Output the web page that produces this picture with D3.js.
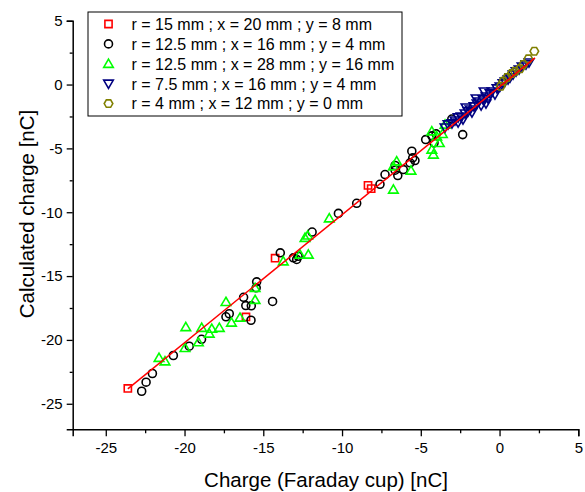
<!DOCTYPE html>
<html>
<head>
<meta charset="utf-8">
<script src="https://cdn.jsdelivr.net/npm/d3@7"></script>
<style>
  body { margin: 0; background: #fff; }
  text { font-family: "Liberation Sans", Arial, sans-serif; }
</style>
</head>
<body>
<svg id="chart" width="585" height="492"></svg>
<script>
// series values: [faraday cup charge, calculated charge] in nC
var red15 = [[-23.6,-23.8],[-14.25,-13.6],[-16.1,-18.2],[-8.35,-7.9],[-8.15,-8.15]];

var black125 = [[-22.72,-24.02],[-22.44,-23.31],[-22.04,-22.63],[-20.71,-21.22],[-19.7,-20.49],
  [-18.92,-19.95],[-17.37,-18.19],[-17.16,-17.95],[-16.25,-16.66],[-16.11,-17.31],[-15.76,-17.33],
  [-15.78,-18.46],[-15.45,-15.92],[-15.42,-15.45],[-14.41,-16.99],[-13.92,-13.18],[-13.09,-13.57],
  [-12.88,-13.7],[-12.79,-13.45],[-11.9,-11.55],[-10.23,-10.09],[-9.07,-9.3],[-7.59,-7.81],
  [-7.27,-7.05],[-6.63,-6.34],[-6.63,-6.71],[-6.46,-7.13],[-6.11,-6.66],[-5.68,-6.13],
  [-5.57,-5.22],[-5.51,-5.74],[-5.37,-5.95],[-4.69,-4.31],[-4.3,-4.02],[-4.16,-4.57],
  [-4.03,-3.86],[-3.03,-2.7],[-2.34,-3.92]];

var green125 = [[-21.62,-21.4],[-21.24,-21.67],[-19.97,-20.62],[-19.12,-20.18],[-19.92,-18.99],
  [-18.91,-19.05],[-18.27,-19.12],[-18.43,-19.5],[-17.79,-19.05],[-17.37,-17.02],[-17.02,-18.64],
  [-16.48,-18.25],[-15.52,-16.86],[-15.52,-15.92],[-13.73,-13.84],[-12.67,-13.31],[-12.14,-13.31],
  [-12.35,-12.0],[-12.18,-11.82],[-10.81,-10.47],[-6.74,-8.22],[-6.53,-6.01],[-6.74,-6.4],
  [-5.62,-6.73],[-4.3,-3.66],[-3.99,-4.05],[-3.63,-3.86],[-3.82,-4.57],[-4.3,-5.09],[-4.2,-5.48],
  [-3.46,-3.13]];

var blue75 = [[-3.46,-3.37],[-3.27,-3.13],[-3.02,-3.05],[-2.83,-2.82],[-2.63,-2.58],[-2.44,-2.51],
  [-2.32,-2.74],[-2.19,-2.27],[-2.0,-2.11],[-1.87,-1.96],[-1.75,-2.19],[-1.62,-1.72],[-1.43,-1.49],
  [-1.3,-1.33],[-1.17,-1.64],[-1.05,-1.17],[-0.86,-0.94],[-0.73,-1.1],[-0.6,-0.7],[-0.48,-0.55],
  [-0.29,-0.78],[-0.16,-0.31],[0.03,-0.16],[0.22,0.08],[0.35,0.23],[0.54,0.39],[0.67,0.55],
  [0.86,0.78],[1.05,1.02],[1.24,1.17],[1.43,1.41],[1.68,1.57],[1.87,1.72],[-0.86,-1.49],
  [-1.49,-1.1],[-2.13,-1.8],[-2.63,-2.98],[-0.98,-0.55]];

var olive4 = [[2.21,2.61],[1.83,2.01],[1.51,1.57],[1.3,1.23],[0.98,1.04],[0.77,0.86],
  [0.48,0.55],[0.24,0.26],[0.08,-0.13]];

// linear fit end points
var fitX = [-23.6, 2.25];
var fitY = [-23.83, 2.09];

var legendLabels = [
  "r = 15 mm ; x = 20 mm ; y = 8 mm",
  "r = 12.5 mm ; x = 16 mm ; y = 4 mm",
  "r = 12.5 mm ; x = 28 mm ; y = 16 mm",
  "r = 7.5 mm ; x = 16 mm ; y = 4 mm",
  "r = 4 mm ; x = 12 mm ; y = 0 mm"
];
var xTicks = [-25, -20, -15, -10, -5, 0, 5];
var yTicks = [-25, -20, -15, -10, -5, 0, 5];
var xMinor = [-22.5, -17.5, -12.5, -7.5, -2.5, 2.5];
var yMinor = [-22.5, -17.5, -12.5, -7.5, -2.5, 2.5];

var series = [
  {data: red15, color: "#ff0000", shape: "square"},
  {data: black125, color: "#000000", shape: "circle"},
  {data: green125, color: "#00ff00", shape: "up"},
  {data: blue75, color: "#000080", shape: "down"},
  {data: olive4, color: "#808000", shape: "hex"}
];

var svg = d3.select("#chart");

var x = d3.scaleLinear().domain([-27.1, 5]).range([72.7, 578.3]);
var y = d3.scaleLinear().domain([-27, 5]).range([429.3, 20.7]);

// marker path builders, centred at 0,0
function markerPath(shape) {
  if (shape == "square") return "M-3.6,-3.6H3.6V3.6H-3.6Z";
  if (shape == "circle") return d3.symbol(d3.symbolCircle, 50)();
  if (shape == "up") return "M0,-4.6L4.8,3.6H-4.8Z";
  if (shape == "down") return "M0,4.6L4.8,-3.6H-4.8Z";
  // hexagon
  var pts = d3.range(6).map(function(i) {
    var a = Math.PI / 3 * i;
    return [4.3 * Math.cos(a), 4.3 * Math.sin(a)];
  });
  return "M" + pts.join("L") + "Z";
}

var fmt = function(d) { return String(d); };

// axes (major with labels, minor without)
var xMajor = svg.append("g").attr("transform", "translate(0," + y(-27) + ")")
  .call(d3.axisBottom(x).tickValues(xTicks).tickSize(7).tickPadding(6).tickFormat(fmt));
var xMin = svg.append("g").attr("transform", "translate(0," + y(-27) + ")")
  .call(d3.axisBottom(x).tickValues(xMinor).tickSize(4).tickFormat(""));
xMin.select(".domain").remove();

var yMajor = svg.append("g").attr("transform", "translate(" + x(-27.1) + ",0)")
  .call(d3.axisLeft(y).tickValues(yTicks).tickSize(6).tickPadding(4).tickFormat(fmt));
var yMin = svg.append("g").attr("transform", "translate(" + x(-27.1) + ",0)")
  .call(d3.axisLeft(y).tickValues(yMinor).tickSize(3).tickFormat(""));
yMin.select(".domain").remove();

svg.selectAll(".domain").attr("stroke", "#000").attr("stroke-width", 1.5);
svg.selectAll(".tick line").attr("stroke", "#000").attr("stroke-width", 1.3);
svg.selectAll(".tick text").attr("font-size", 15).attr("fill", "#000")
  .attr("font-family", "Liberation Sans, Arial, sans-serif");

// axis titles
svg.append("text").attr("x", 326).attr("y", 487).attr("text-anchor", "middle")
  .attr("font-size", 20.5).text("Charge (Faraday cup) [nC]");
svg.append("text").attr("transform", "translate(34,214) rotate(-90)")
  .attr("text-anchor", "middle").attr("font-size", 20.5).text("Calculated charge [nC]");

// points
series.forEach(function(s) {
  svg.append("g").selectAll("path").data(s.data).enter().append("path")
    .attr("d", markerPath(s.shape))
    .attr("transform", function(d) { return "translate(" + x(d[0]) + "," + y(d[1]) + ")"; })
    .attr("fill", "none").attr("stroke", s.color).attr("stroke-width", 1.6);
});

// fit line
svg.append("line")
  .attr("x1", x(fitX[0])).attr("y1", y(fitY[0]))
  .attr("x2", x(fitX[1])).attr("y2", y(fitY[1]))
  .attr("stroke", "#ff0000").attr("stroke-width", 1.5);

// legend
var legend = svg.append("g");
legend.append("rect").attr("x", 88).attr("y", 12).attr("width", 314).attr("height", 104)
  .attr("fill", "#fff").attr("stroke", "#000").attr("stroke-width", 1);
var row = legend.selectAll(".row").data(series).enter().append("g")
  .attr("transform", function(d, i) { return "translate(0," + (24 + i * 19.9) + ")"; });
row.append("path").attr("transform", "translate(108.5,0)")
  .attr("d", function(d) { return markerPath(d.shape); })
  .attr("fill", "none").attr("stroke", function(d) { return d.color; }).attr("stroke-width", 1.6);
row.append("text").attr("x", 131.5).attr("y", 5.8).attr("font-size", 16)
  .text(function(d, i) { return legendLabels[i]; });
</script>
</body>
</html>
